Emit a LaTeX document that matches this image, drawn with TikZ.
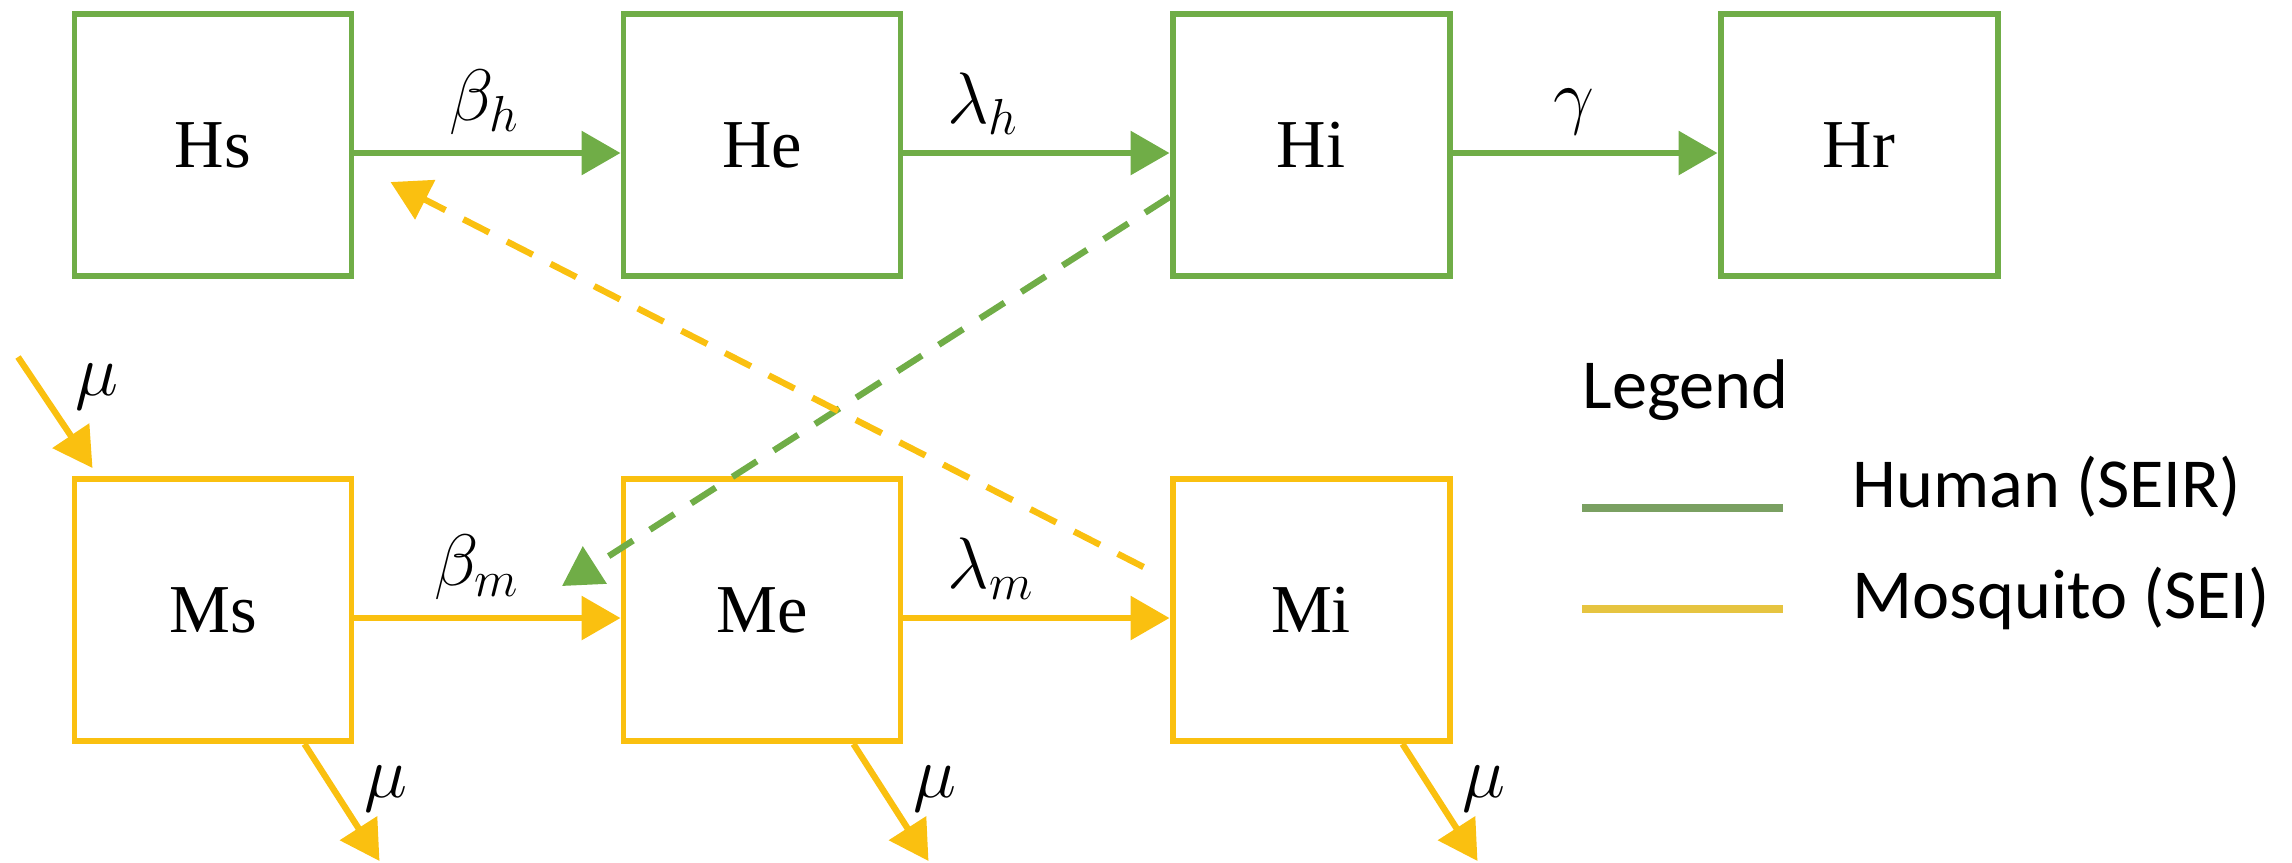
\documentclass[tikz,border=0pt]{standalone}
\usepackage{fontspec}
\setmainfont{Liberation Serif}
\newfontfamily\legendfont{Carlito}
\usetikzlibrary{arrows.meta}

\definecolor{hgreen}{RGB}{112,173,71}
\definecolor{myellow}{RGB}{250,192,16}
\definecolor{hgreenleg}{RGB}{122,160,98}
\definecolor{myellowleg}{RGB}{230,196,64}

\tikzset{
    comp/.style={draw, line width=1.7pt, minimum width=2.77cm, minimum height=2.62cm,
        font=\fontsize{19.5}{23}\selectfont},
    hbox/.style={comp, draw=hgreen},
    mbox/.style={comp, draw=myellow},
    flow/.style={line width=1.8pt, -{Triangle[length=0.39cm, width=0.43cm]}},
    vector/.style={flow, dash pattern=on 0.29cm off 0.2cm},
    rate/.style={text=black, inner sep=0.15cm, font=\fontsize{19.5}{23}\selectfont},
    legtext/.style={anchor=base west, inner sep=0pt, font=\legendfont\fontsize{20}{24}\selectfont},
}

\begin{document}
\begin{tikzpicture}
    \useasboundingbox (0,0) rectangle (22.92,-8.62);

    % Compartiments humains (SEIR)
    \node[hbox] (Hs) at (2.13,-1.45) {Hs};
    \node[hbox] (He) at (7.62,-1.45) {He};
    \node[hbox] (Hi) at (13.11,-1.45) {Hi};
    \node[hbox] (Hr) at (18.59,-1.45) {Hr};

    % Compartiments moustiques (SEI)
    \node[mbox] (Ms) at (2.13,-6.10) {Ms};
    \node[mbox] (Me) at (7.62,-6.10) {Me};
    \node[mbox] (Mi) at (13.11,-6.10) {Mi};

    % Transitions humaines
    \draw[flow, hgreen] ([yshift=-0.08cm]Hs.east) -- ([yshift=-0.08cm]He.west) node[rate, pos=0.49, above] {$\beta_h$};
    \draw[flow, hgreen] ([yshift=-0.08cm]He.east) -- ([yshift=-0.08cm]Hi.west) node[rate, pos=0.3, above] {$\lambda_h$};
    \draw[flow, hgreen] ([yshift=-0.08cm]Hi.east) -- ([yshift=-0.08cm]Hr.west) node[rate, pos=0.46, above] {$\gamma$};

    % Transitions moustiques
    \draw[flow, myellow] ([yshift=-0.08cm]Ms.east) -- ([yshift=-0.08cm]Me.west) node[rate, pos=0.46, above] {$\beta_m$};
    \draw[flow, myellow] ([yshift=-0.08cm]Me.east) -- ([yshift=-0.08cm]Mi.west) node[rate, pos=0.33, above] {$\lambda_m$};

    % Naissances et morts
    \coordinate (muin) at (0.18,-3.57);
    \draw[flow, myellow] (muin) -- ([xshift=0.21cm, yshift=0.08cm]Ms.north west) node[rate, pos=0.27, anchor=west, xshift=0.19cm] {$\mu$};
    \foreach \m in {Ms,Me,Mi}
        \draw[flow, myellow] ([xshift=-0.5cm]\m.south east) -- ++(0.75,-1.17) node[rate, pos=0.38, anchor=west, xshift=0.13cm] {$\mu$};

    % Transmission croisee
    \coordinate (gtip) at (5.62,-5.86);
    \draw[vector, hgreen] ([yshift=-0.52cm]Hi.west) -- (gtip);
    \draw[vector, myellow] ([xshift=-0.26cm, yshift=0.43cm]Mi.west) -- ([xshift=0.36cm, yshift=-0.37cm]Hs.east);

    % Legende
    \node[legtext] (leg) at (15.82,-4.08) {Legend};
    \node[legtext] (human) at (18.52,-5.07) {Human (SEIR)};
    \node[legtext] (mosq) at (18.52,-6.18) {Mosquito (SEI)};
    \draw[hgreenleg, line width=2.3pt] (15.82,-5.08) -- (17.83,-5.08);
    \draw[myellowleg, line width=2.3pt] (15.82,-6.09) -- (17.83,-6.09);
\end{tikzpicture}
\end{document}
